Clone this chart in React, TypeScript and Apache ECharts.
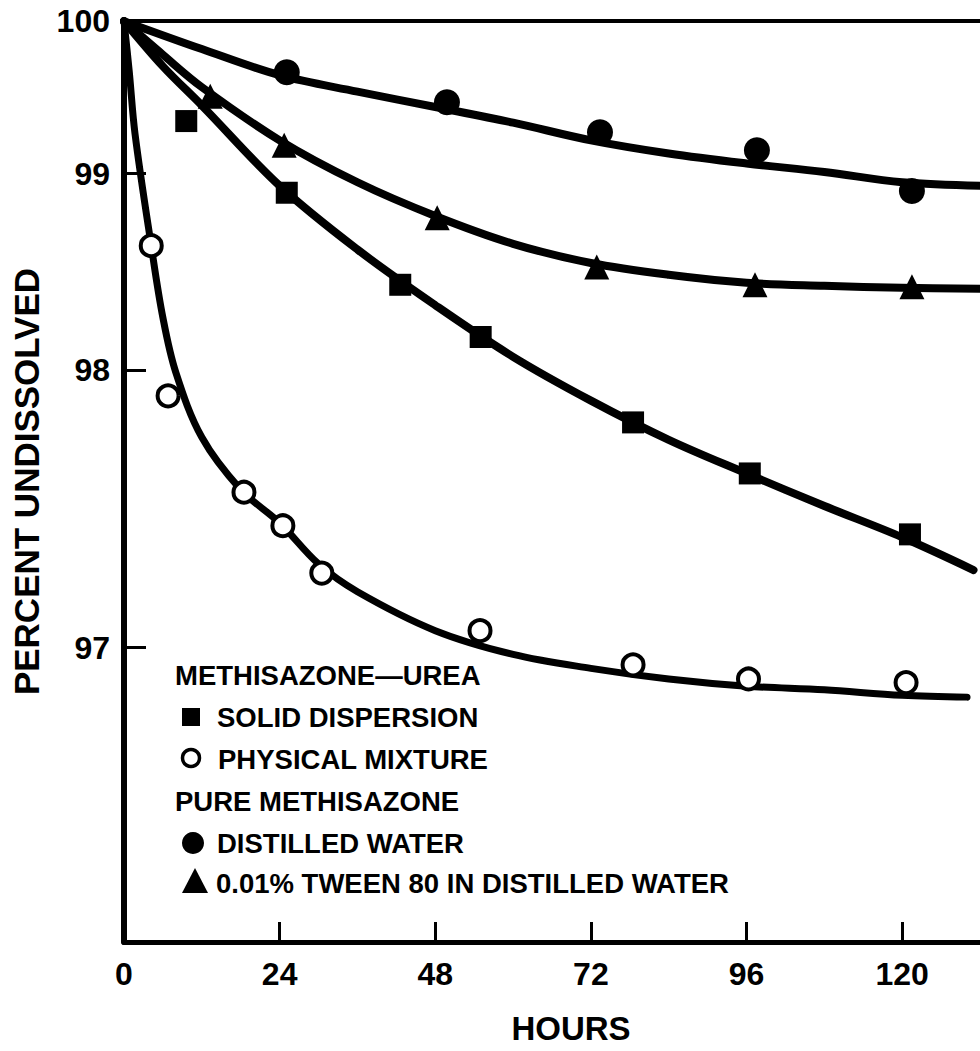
import React, { useEffect, useRef } from 'react';
import * as echarts from 'echarts';

// Y scale of the original: log(percent - 95)
const OFFSET = 95;

const xLabelHours = [0, 24, 48, 72, 96, 120];
const xTickHours = [24, 48, 72, 96, 120];
const yLabelPercents = [97, 98, 99, 100];
const yTickPercents = [97, 98, 99];

// Fitted curves
const distilledCurveHours = [0, 12, 24, 36, 48, 60, 72, 84, 96, 108, 120, 132];
const distilledCurve = [100, 99.8, 99.62, 99.51, 99.41, 99.31, 99.2, 99.12, 99.06, 99.01, 98.95, 98.93];

const tweenCurveHours = [0, 6, 12, 24, 36, 48, 60, 72, 84, 96, 108, 120, 132];
const tweenCurve = [100, 99.76, 99.54, 99.2, 98.95, 98.76, 98.61, 98.51, 98.45, 98.41, 98.395, 98.385, 98.38];

const solidCurveHours = [0, 6, 12, 24, 36, 48, 60, 72, 84, 96, 108, 120, 131];
const solidCurve = [100, 99.68, 99.42, 98.93, 98.58, 98.3, 98.06, 97.87, 97.71, 97.58, 97.46, 97.35, 97.24];

const physicalCurveHours = [0, 0.8, 1.7, 4.2, 6, 8, 12, 18, 24, 30, 36, 48, 60, 72, 84, 96, 108, 120, 130];
const physicalCurve = [100, 99.65, 99.24, 98.6, 98.24, 97.99, 97.72, 97.52, 97.4, 97.26, 97.17, 97.05, 96.98, 96.94, 96.91, 96.89, 96.88, 96.865, 96.86];

// Measured points
const distilledHours = [25.1, 49.8, 73.4, 97.6, 121.5];
const distilledPts = [99.64, 99.44, 99.25, 99.14, 98.9];

const tweenHours = [13.3, 24.7, 48.3, 72.9, 97.3, 121.5];
const tweenPts = [99.48, 99.17, 98.75, 98.49, 98.4, 98.39];

const solidHours = [9.6, 25.1, 42.6, 55.0, 78.5, 96.5, 121.2];
const solidPts = [99.32, 98.89, 98.4, 98.15, 97.78, 97.58, 97.36];

const physicalHours = [4.2, 6.8, 18.5, 24.5, 30.5, 54.9, 78.5, 96.3, 120.6];
const physicalPts = [98.6, 97.89, 97.51, 97.39, 97.23, 97.05, 96.95, 96.91, 96.9];

const FONT = '"Liberation Sans", Arial, Helvetica, sans-serif';

const toData = (hours: number[], pct: number[]) => hours.map((h, i) => [h, pct[i] - OFFSET]);

export default function App() {
  const ref = useRef<HTMLDivElement>(null);
  useEffect(() => {
    if (!ref.current) return;
    const chart = echarts.init(ref.current, undefined, { renderer: 'svg' });
    const curve = (name: string, h: number[], p: number[], w: number) => ({
      name,
      type: 'line',
      data: toData(h, p),
      smooth: 0.35,
      showSymbol: false,
      symbol: 'none',
      lineStyle: { color: '#000', width: w, cap: 'round', join: 'round' },
      z: 3,
    });
    const pts = (name: string, h: number[], p: number[], symbol: string, size: number, item: any) => ({
      name,
      type: 'scatter',
      data: toData(h, p),
      symbol,
      symbolSize: size,
      itemStyle: { opacity: 1, ...item },
      z: 5,
    });
    const legendText = (text: string, x: number, y: number) => ({
      type: 'text',
      x,
      y,
      style: { text, fill: '#000', font: `bold 27.5px ${FONT}`, verticalAlign: 'middle', align: 'left' },
      z: 10,
    });
    chart.setOption({
      animation: false,
      backgroundColor: '#fff',
      grid: { left: 124, right: 0, top: 21, bottom: 109, containLabel: false },
      xAxis: [
        {
          type: 'value',
          min: 0,
          max: 132,
          name: 'HOURS',
          nameLocation: 'middle',
          nameGap: 70,
          nameTextStyle: { color: '#000', fontSize: 33, fontWeight: 'bold', fontFamily: FONT, padding: [0, 0, 0, 38] },
          axisLine: { show: true, lineStyle: { color: '#000', width: 5 } },
          axisTick: { show: true, inside: true, length: 20, customValues: xTickHours, lineStyle: { color: '#000', width: 3 } },
          axisLabel: { customValues: xLabelHours, color: '#000', fontSize: 32, fontWeight: 'bold', fontFamily: FONT, margin: 16 },
          splitLine: { show: false },
        },
        {
          type: 'value',
          position: 'top',
          min: 0,
          max: 132,
          axisLine: { show: true, lineStyle: { color: '#000', width: 4 } },
          axisTick: { show: false },
          axisLabel: { show: false },
          splitLine: { show: false },
        },
      ],
      yAxis: {
        type: 'log',
        logBase: 10,
        min: 1.3,
        max: 5.001,
        name: 'PERCENT UNDISSOLVED',
        nameLocation: 'middle',
        nameGap: 80,
        nameTextStyle: { color: '#000', fontSize: 35, fontWeight: 'bold', fontFamily: FONT },
        axisLine: { show: true, lineStyle: { color: '#000', width: 6 } },
        axisTick: { show: true, inside: true, length: 22, customValues: yTickPercents.map((p) => p - OFFSET), lineStyle: { color: '#000', width: 3 } },
        axisLabel: {
          customValues: yLabelPercents.map((p) => p - OFFSET),
          formatter: (v: number) => String(Math.round(v + OFFSET)),
          color: '#000',
          fontSize: 32,
          fontWeight: 'bold',
          fontFamily: FONT,
          margin: 14,
        },
        splitLine: { show: false },
        minorTick: { show: false },
      },
      series: [
        curve('Distilled water fit', distilledCurveHours, distilledCurve, 8),
        curve('Tween fit', tweenCurveHours, tweenCurve, 8),
        curve('Solid dispersion fit', solidCurveHours, solidCurve, 8),
        curve('Physical mixture fit', physicalCurveHours, physicalCurve, 7),
        pts('Distilled water', distilledHours, distilledPts, 'circle', 26, { color: '#000' }),
        pts('0.01% Tween 80', tweenHours, tweenPts, 'triangle', 25, { color: '#000' }),
        pts('Solid dispersion', solidHours, solidPts, 'rect', 22, { color: '#000' }),
        pts('Physical mixture', physicalHours, physicalPts, 'circle', 21, { color: '#fff', borderColor: '#000', borderWidth: 4 }),
      ],
      graphic: [
        legendText('METHISAZONE\u2014UREA', 175, 675),
        { type: 'rect', shape: { x: 182, y: 708, width: 18, height: 18 }, style: { fill: '#000' }, z: 10 },
        legendText('SOLID DISPERSION', 217, 717),
        { type: 'circle', shape: { cx: 191, cy: 758, r: 8.5 }, style: { fill: '#fff', stroke: '#000', lineWidth: 3.5 }, z: 10 },
        legendText('PHYSICAL MIXTURE', 218, 759),
        legendText('PURE METHISAZONE', 175, 801),
        { type: 'circle', shape: { cx: 193, cy: 843, r: 11 }, style: { fill: '#000' }, z: 10 },
        legendText('DISTILLED WATER', 217, 843),
        { type: 'polygon', shape: { points: [[195, 868], [182, 893], [208, 893]] }, style: { fill: '#000' }, z: 10 },
        legendText('0.01% TWEEN 80 IN DISTILLED WATER', 216, 883),
      ],
    });
    return () => chart.dispose();
  }, []);
  return <div ref={ref} style={{ position: 'absolute', left: 0, top: 0, width: 980, height: 1051 }} />;
}
